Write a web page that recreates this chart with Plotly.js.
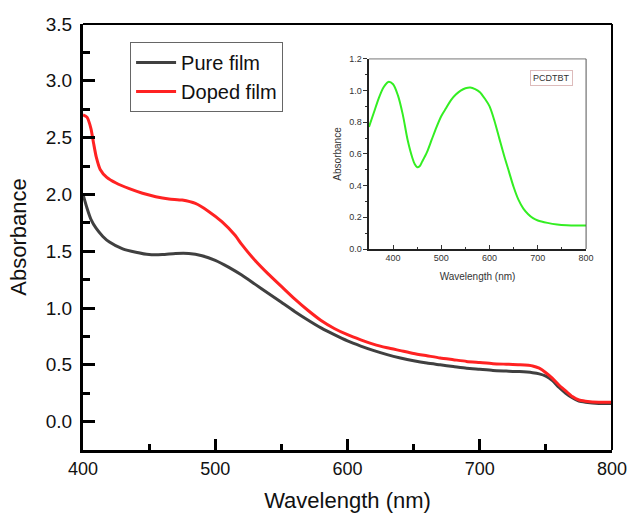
<!DOCTYPE html>
<html>
<head>
<meta charset="utf-8">
<script src="https://cdn.plot.ly/plotly-3.0.1.min.js"></script>
<style>html,body{margin:0;padding:0;background:#fff;}#chart{width:628px;height:518px;}</style>
</head>
<body>
<div id="chart"></div>
<script>
const pureWl = [400,403,406,410,415,420,430,440,450,460,470,480,490,500,510,520,530,540,550,560,570,580,590,600,610,620,630,640,650,660,670,680,690,700,710,720,730,740,745,750,755,760,765,770,775,780,790,800];
const pureAbs = [2.00,1.88,1.78,1.70,1.63,1.58,1.52,1.49,1.47,1.47,1.48,1.48,1.46,1.42,1.36,1.29,1.21,1.13,1.05,0.97,0.895,0.825,0.765,0.71,0.665,0.625,0.59,0.56,0.535,0.515,0.50,0.485,0.47,0.46,0.45,0.445,0.44,0.43,0.42,0.40,0.36,0.30,0.25,0.21,0.18,0.17,0.16,0.16];
const dopedWl = [400,403,406,408,410,413,418,425,435,445,455,465,475,485,495,505,515,520,530,540,550,560,570,580,590,600,610,620,630,640,650,660,670,680,690,700,710,720,730,740,745,750,755,760,765,770,775,780,790,800];
const dopedAbs = [2.70,2.68,2.58,2.45,2.33,2.22,2.15,2.10,2.05,2.01,1.98,1.96,1.95,1.92,1.85,1.76,1.64,1.56,1.42,1.30,1.19,1.08,0.98,0.89,0.82,0.765,0.72,0.68,0.65,0.625,0.60,0.58,0.56,0.545,0.53,0.52,0.51,0.505,0.50,0.49,0.47,0.43,0.38,0.32,0.27,0.22,0.19,0.18,0.17,0.17];
const insetWl = [350,360,370,380,390,400,410,420,430,440,445,450,455,460,470,480,490,500,510,520,530,540,550,560,570,580,590,600,610,620,630,640,650,660,670,680,690,700,720,740,760,780,800];
const insetAbs = [0.77,0.86,0.95,1.02,1.055,1.04,0.97,0.85,0.69,0.575,0.535,0.516,0.522,0.55,0.61,0.69,0.77,0.84,0.89,0.94,0.975,1.00,1.015,1.02,1.01,0.99,0.95,0.90,0.81,0.70,0.59,0.49,0.39,0.31,0.255,0.22,0.195,0.18,0.165,0.155,0.15,0.148,0.148];
const seriesNames = ['Pure film','Doped film'];
const insetLabel = 'PCDTBT';

const FONT = 'Liberation Sans, Arial, sans-serif';
const traces = [
  {x: pureWl, y: pureAbs, name: seriesNames[0], type: 'scatter', mode: 'lines',
   line: {color: '#404040', width: 3, shape: 'spline', smoothing: 0.6}, xaxis: 'x', yaxis: 'y'},
  {x: dopedWl, y: dopedAbs, name: seriesNames[1], type: 'scatter', mode: 'lines',
   line: {color: '#ff2222', width: 3, shape: 'spline', smoothing: 0.6}, xaxis: 'x', yaxis: 'y'},
  {x: insetWl, y: insetAbs, name: insetLabel, type: 'scatter', mode: 'lines', showlegend: false,
   line: {color: '#33ee22', width: 2, shape: 'spline', smoothing: 0.8}, xaxis: 'x2', yaxis: 'y2'}
];

const layout = {
  width: 628, height: 518,
  margin: {l: 83, r: 16, t: 24, b: 68},
  paper_bgcolor: '#fff', plot_bgcolor: '#fff',
  font: {family: FONT, color: '#111'},
  showlegend: true,
  legend: {x: 0.089, y: 0.958, xanchor: 'left', yanchor: 'top',
    bgcolor: 'rgba(255,255,255,0)', bordercolor: '#666', borderwidth: 1,
    font: {size: 20, family: FONT, color: '#111'}, tracegroupgap: 0, itemwidth: 40},
  xaxis: {range: [400, 800], domain: [0, 1], anchor: 'y',
    tickvals: [400,500,600,700,800], ticks: 'inside', ticklen: 11, tickwidth: 3, tickcolor: '#000',
    minor: {tickvals: [450,550,650,750], ticks: 'inside', ticklen: 6, tickwidth: 3, tickcolor: '#000'},
    showline: true, linewidth: 3, linecolor: '#000', showgrid: false, zeroline: false,
    tickfont: {size: 18, family: FONT, color: '#111'},
    title: {text: 'Wavelength (nm)', font: {size: 22, family: FONT, color: '#111'}, standoff: 16}},
  yaxis: {range: [-0.25, 3.5], domain: [0, 1], anchor: 'x',
    tickvals: [0,0.5,1,1.5,2,2.5,3,3.5], ticktext: ['0.0','0.5','1.0','1.5','2.0','2.5','3.0','3.5'],
    ticks: 'inside', ticklen: 12, tickwidth: 3, tickcolor: '#000',
    minor: {tickvals: [0.25,0.75,1.25,1.75,2.25,2.75,3.25], ticks: 'inside', ticklen: 7, tickwidth: 3, tickcolor: '#000'},
    showline: true, linewidth: 3, linecolor: '#000', showgrid: false, zeroline: false,
    tickfont: {size: 19, family: FONT, color: '#111'}, ticklabelstandoff: 4,
    title: {text: 'Absorbance', font: {size: 22, family: FONT, color: '#111'}, standoff: 14}},
  xaxis2: {range: [350, 800], domain: [0.5406, 0.951], anchor: 'y2',
    tickvals: [400,500,600,700,800], ticks: 'inside', ticklen: 4, tickwidth: 1, tickcolor: '#333',
    minor: {tickvals: [450,550,650,750], ticks: 'inside', ticklen: 2, tickwidth: 1, tickcolor: '#333'},
    showline: true, linewidth: 1.5, linecolor: '#222', mirror: false, showgrid: false, zeroline: false,
    tickfont: {size: 9, family: FONT, color: '#333'},
    title: {text: 'Wavelength (nm)', font: {size: 10, family: FONT, color: '#333'}, standoff: 10}},
  yaxis2: {range: [0, 1.2], domain: [0.4718, 0.918], anchor: 'x2',
    tickvals: [0,0.2,0.4,0.6,0.8,1.0,1.2], ticktext: ['0.0','0.2','0.4','0.6','0.8','1.0','1.2'],
    ticks: 'outside', ticklen: 4, tickwidth: 1, tickcolor: '#333',
    minor: {tickvals: [0.1,0.3,0.5,0.7,0.9,1.1], ticks: 'outside', ticklen: 2, tickwidth: 1, tickcolor: '#333'},
    showline: true, linewidth: 1.5, linecolor: '#222', showgrid: false, zeroline: false,
    tickfont: {size: 9, family: FONT, color: '#333'},
    title: {text: 'Absorbance', font: {size: 10, family: FONT, color: '#333'}, standoff: 5}},
  shapes: [
    {type: 'line', xref: 'paper', yref: 'paper', x0: 0, x1: 1, y0: 1, y1: 1, line: {color: '#000', width: 2}},
    {type: 'line', xref: 'paper', yref: 'paper', x0: 1, x1: 1, y0: 0, y1: 1, line: {color: '#000', width: 2}},
    {type: 'line', xref: 'x2 domain', yref: 'y2 domain', x0: 0, x1: 1, y0: 1, y1: 1, line: {color: '#777', width: 1}},
    {type: 'line', xref: 'x2 domain', yref: 'y2 domain', x0: 1, x1: 1, y0: 0, y1: 1, line: {color: '#555', width: 1}}
  ],
  annotations: [
    {xref: 'x2 domain', yref: 'y2 domain', x: 0.94, y: 0.94, xanchor: 'right', yanchor: 'top',
     text: insetLabel, showarrow: false, font: {size: 9, family: FONT, color: '#333'},
     bordercolor: '#ddbbbb', borderwidth: 1, borderpad: 2, bgcolor: '#fff'}
  ]
};

Plotly.newPlot('chart', traces, layout, {displayModeBar: false, staticPlot: true});
</script>
</body>
</html>
